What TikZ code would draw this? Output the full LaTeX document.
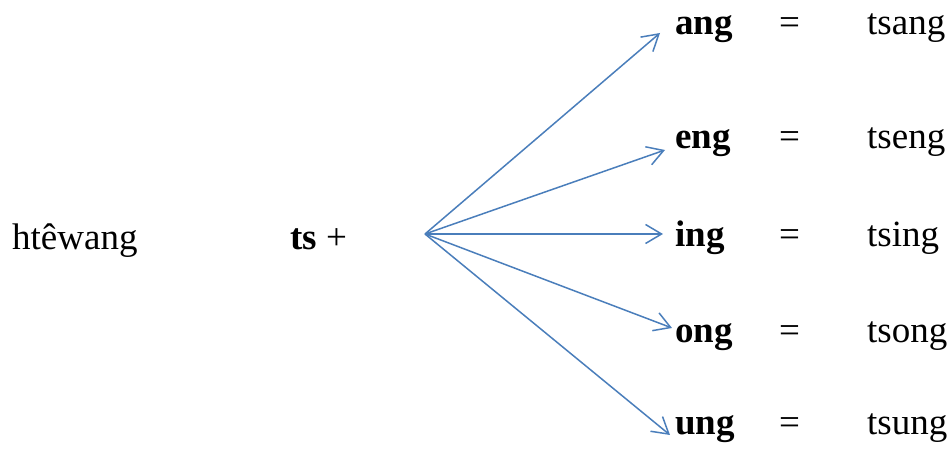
\documentclass[tikz,border=0pt]{standalone}
\usepackage{fontspec}
\setmainfont{Liberation Serif}
\usetikzlibrary{arrows.meta}
\definecolor{arrowblue}{HTML}{4A7EBB}

\begin{document}
\begin{tikzpicture}[x=1pt,y=1pt,
  txt/.style={inner sep=0pt,anchor=base west,font=\fontsize{37}{44}\selectfont},
  fan/.style={arrowblue,line width=1.5pt,-{Straight Barb[length=16pt,width=19pt]}}]
\useasboundingbox (0,0) rectangle (950,454);
\node[txt] (htew) at (12,204) {htêwang};
\node[txt] (ts) at (290,204) {\textbf{ts} +};
\coordinate (hub) at (425,220);
\foreach \v/\y in {ang/419,eng/305,ing/207,ong/111,ung/19} {
  \node[txt] (\v) at (675,\y) {\textbf{\v}};
  \node[txt] (eq\v) at (779,\y) {=};
  \node[txt] (r\v) at (867,\y) {ts\v};
}
\draw[fan] (hub) -- ([shift={(-15,2)}]ang.base west);
\draw[fan] (hub) -- ([shift={(-10,-1)}]eng.base west);
\draw[fan] (hub) -- ([shift={(-12,13)}]ing.base west);
\draw[fan] (hub) -- ([shift={(-3,15)}]ong.base west);
\draw[fan] (hub) -- ([shift={(-5,0)}]ung.base west);
\end{tikzpicture}
\end{document}
